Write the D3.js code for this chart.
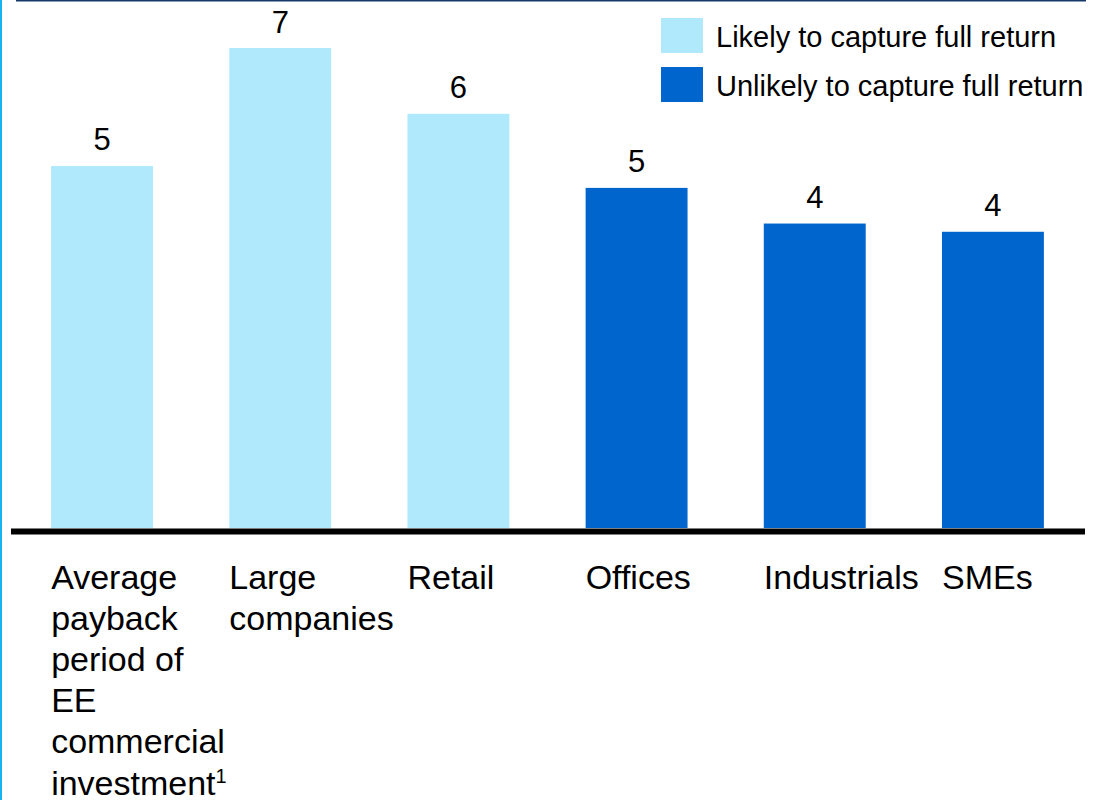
<!DOCTYPE html>
<html>
<head>
<meta charset="utf-8">
<script src="https://cdn.jsdelivr.net/npm/d3@7"></script>
<style>
  html, body { margin: 0; padding: 0; background: #ffffff; }
  svg { display: block; }
  text { font-family: "Liberation Sans", Arial, Helvetica, sans-serif; fill: #000; }
</style>
</head>
<body>
<svg id="chart" width="1105" height="800"></svg>
<script>
// ---- data ----
const categories = [
  "Average payback period of EE commercial investment",
  "Large companies",
  "Retail",
  "Offices",
  "Industrials",
  "SMEs"
];
const categoryLines = [
  ["Average", "payback", "period of", "EE", "commercial", "investment"],
  ["Large", "companies"],
  ["Retail"],
  ["Offices"],
  ["Industrials"],
  ["SMEs"]
];
const footnoteMarks = ["1", "", "", "", "", ""];
const values = [5.28, 7.0, 6.04, 4.96, 4.44, 4.32];
const groups = ["likely", "likely", "likely", "unlikely", "unlikely", "unlikely"];
const legendKeys = ["likely", "unlikely"];
const legendLabels = ["Likely to capture full return", "Unlikely to capture full return"];

// ---- drawing ----
const svg = d3.select("#chart");
const color = d3.scaleOrdinal().domain(legendKeys).range(["#b0e9fc", "#0065cc"]);

const x = d3.scaleBand()
  .domain(categories)
  .range([13, 1082])
  .paddingInner(0.428)
  .paddingOuter(0.214);

const y = d3.scaleLinear().domain([0, 7]).range([528, 48]);

// frame lines
svg.append("line")
  .attr("x1", 1).attr("x2", 1).attr("y1", 0).attr("y2", 800)
  .attr("stroke", "#14b4f0").attr("stroke-width", 2);
svg.append("line")
  .attr("x1", 16).attr("x2", 1086).attr("y1", 0.75).attr("y2", 0.75)
  .attr("stroke", "#16396b").attr("stroke-width", 1.5);

const data = categories.map((c, i) => ({
  cat: c, value: values[i], group: groups[i], lines: categoryLines[i], mark: footnoteMarks[i]
}));

// bars
svg.append("g").selectAll("rect").data(data).join("rect")
  .attr("x", d => x(d.cat))
  .attr("width", x.bandwidth())
  .attr("y", d => y(d.value))
  .attr("height", d => y(0) - y(d.value))
  .attr("fill", d => color(d.group));

// baseline
svg.append("line")
  .attr("x1", 11).attr("x2", 1085)
  .attr("y1", y(0) + 3.5).attr("y2", y(0) + 3.5)
  .attr("stroke", "#000").attr("stroke-width", 6);

// value labels
const fmt = d3.format(".0f");
svg.append("g").selectAll("text").data(data).join("text")
  .attr("x", d => x(d.cat) + x.bandwidth() / 2)
  .attr("y", d => y(d.value) - 15.5)
  .attr("text-anchor", "middle")
  .attr("font-size", 31)
  .text(d => fmt(d.value));

// category labels
const catG = svg.append("g").selectAll("text").data(data).join("text")
  .attr("x", d => x(d.cat))
  .attr("y", 589)
  .attr("font-size", 34);
catG.each(function(d) {
  const t = d3.select(this);
  d.lines.forEach((ln, i) => {
    t.append("tspan")
      .attr("x", x(d.cat))
      .attr("y", 589 + i * 41.1)
      .text(ln);
    if (i === d.lines.length - 1 && d.mark) {
      t.append("tspan")
        .attr("font-size", 20)
        .attr("dy", -12)
        .text(d.mark);
    }
  });
});

// legend
const leg = svg.append("g").selectAll("g").data(legendKeys).join("g")
  .attr("transform", (d, i) => `translate(661, ${18 + i * 49})`);
leg.append("rect")
  .attr("width", 42).attr("height", 35)
  .attr("fill", d => color(d));
leg.append("text")
  .attr("x", 55).attr("y", 29)
  .attr("font-size", 29)
  .text((d, i) => legendLabels[i]);
</script>
</body>
</html>
